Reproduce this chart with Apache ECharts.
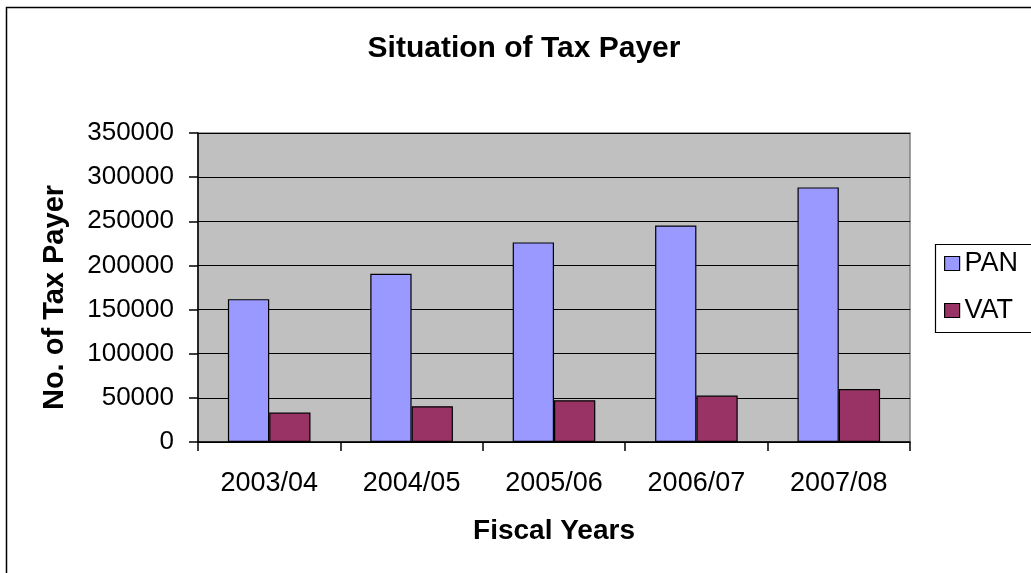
<!DOCTYPE html>
<html>
<head>
<meta charset="utf-8">
<script src="https://cdn.jsdelivr.net/npm/echarts@6/dist/echarts.min.js"></script>
<style>
  html, body { margin: 0; padding: 0; background: #fff; }
  #chart { width: 1031px; height: 573px; }
</style>
</head>
<body>
<div id="chart"></div>
<script>
// Fiscal years on the category axis
const fiscalYears = ['2003/04', '2004/05', '2005/06', '2006/07', '2007/08'];
// Number of PAN registered tax payers
const panValues = [161800, 190500, 226100, 245300, 288400];
// Number of VAT registered tax payers
const vatValues = [33300, 40500, 47300, 52600, 60100];
// Value axis ticks
const yMin = 0;
const yMax = 350000;
const yStep = 50000;

const FONT = '"Liberation Sans", Arial, sans-serif';

const chart = echarts.init(document.getElementById('chart'), null, { renderer: 'canvas' });

chart.setOption({
  backgroundColor: '#ffffff',
  animation: false,
  title: {
    text: 'Situation of Tax Payer',
    left: 519,
    textAlign: 'center',
    top: 29,
    textStyle: { fontFamily: FONT, fontSize: 30, fontWeight: 'bold', color: '#000' }
  },
  legend: {
    orient: 'vertical',
    left: 944,
    top: 250,
    padding: 0,
    itemWidth: 15,
    itemHeight: 14,
    itemGap: 20,
    icon: 'rect',
    textStyle: { fontFamily: FONT, fontSize: 27, color: '#000', padding: [0, 0, 0, 0] },
    itemStyle: { borderColor: '#000', borderWidth: 1.2 },
    data: ['PAN', 'VAT']
  },
  grid: {
    left: 198,
    top: 133,
    width: 712,
    height: 309,
    show: true,
    backgroundColor: '#c0c0c0',
    borderColor: '#808080',
    borderWidth: 1.5
  },
  xAxis: {
    type: 'category',
    data: fiscalYears,
    boundaryGap: true,
    name: 'Fiscal Years',
    nameLocation: 'middle',
    nameGap: 75,
    nameTextStyle: { fontFamily: FONT, fontSize: 28, fontWeight: 'bold', color: '#000' },
    axisLine: { show: true, lineStyle: { color: '#000', width: 1.5 } },
    axisTick: { show: true, alignWithLabel: false, length: 9, lineStyle: { color: '#000', width: 1.5 } },
    axisLabel: { fontFamily: FONT, fontSize: 27, color: '#000', margin: 28 },
    splitLine: { show: false }
  },
  yAxis: {
    type: 'value',
    min: yMin,
    max: yMax,
    interval: yStep,
    name: 'No. of Tax Payer',
    nameLocation: 'middle',
    nameGap: 129,
    nameTextStyle: { fontFamily: FONT, fontSize: 29, fontWeight: 'bold', color: '#000', padding: [0, 20, 0, 0] },
    axisLine: { show: true, lineStyle: { color: '#000', width: 1.5 } },
    axisTick: { show: true, length: 9, lineStyle: { color: '#000', width: 1.5 } },
    axisLabel: {
      fontFamily: FONT, fontSize: 26, color: '#000', margin: 24,
      formatter: (v) => String(v)
    },
    splitLine: { show: true, lineStyle: { color: '#000', width: 1.2 } }
  },
  series: [
    {
      name: 'PAN',
      type: 'bar',
      data: panValues,
      barGap: '0%',
      barCategoryGap: '42%',
      itemStyle: { color: '#9999ff', borderColor: '#000', borderWidth: 1.2 }
    },
    {
      name: 'VAT',
      type: 'bar',
      data: vatValues,
      barGap: '0%',
      barCategoryGap: '42%',
      itemStyle: { color: '#993366', borderColor: '#000', borderWidth: 1.2 }
    }
  ],
  graphic: [
    {
      type: 'rect',
      left: 4,
      top: 5,
      shape: { x: 0, y: 0, width: 1040, height: 580 },
      style: { fill: 'none', stroke: '#000', lineWidth: 1.5 },
      silent: true,
      z: -1
    },
    {
      type: 'rect',
      left: 933,
      top: 242,
      shape: { x: 0, y: 0, width: 110, height: 88 },
      style: { fill: 'none', stroke: '#000', lineWidth: 1.2 },
      silent: true
    }
  ]
});
</script>
</body>
</html>
